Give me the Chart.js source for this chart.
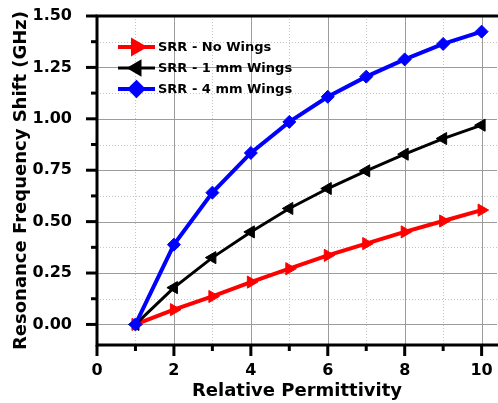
<!DOCTYPE html>
<html>
<head>
<meta charset="utf-8">
<script src="https://cdn.jsdelivr.net/npm/chart.js@4"></script>
<style>
  body { margin: 0; background: #fff; }
  #wrap { width: 498px; height: 403px; }
</style>
</head>
<body>
<div id="wrap"><canvas id="myChart"></canvas></div>
<script>
const permittivity = [1, 2, 3, 4, 5, 6, 7, 8, 9, 10];
const noWings = [0, 0.072, 0.136, 0.206, 0.271, 0.336, 0.393, 0.45, 0.503, 0.556];
const wings1mm = [0, 0.179, 0.325, 0.45, 0.564, 0.661, 0.747, 0.828, 0.904, 0.969];
const wings4mm = [0, 0.388, 0.641, 0.834, 0.985, 1.107, 1.205, 1.289, 1.364, 1.424];
const seriesNames = ["SRR - No Wings", "SRR - 1 mm Wings", "SRR - 4 mm Wings"];
const xTicks = [0, 2, 4, 6, 8, 10];
const xMinor = [1, 3, 5, 7, 9];
const yTicks = [0, 0.25, 0.5, 0.75, 1.0, 1.25, 1.5];
const yMinor = [0.125, 0.375, 0.625, 0.875, 1.125, 1.375];

const FONT = "'DejaVu Sans', sans-serif";

function toPoints(ys) {
  return permittivity.map((x, i) => ({ x: x, y: ys[i] }));
}

// gridlines, axis frame and tick marks
const framePlugin = {
  id: "frame",
  beforeDatasetsDraw(chart) {
    const ctx = chart.ctx;
    const a = chart.chartArea;
    const xs = chart.scales.x, ys = chart.scales.y;
    ctx.save();
    ctx.lineWidth = 1;
    ctx.strokeStyle = "#c4c4c4";
    ctx.setLineDash([1, 2]);
    xMinor.forEach(v => {
      const px = Math.round(xs.getPixelForValue(v)) + 0.5;
      ctx.beginPath(); ctx.moveTo(px, a.top); ctx.lineTo(px, a.bottom); ctx.stroke();
    });
    yMinor.forEach(v => {
      const py = Math.round(ys.getPixelForValue(v)) + 0.5;
      ctx.beginPath(); ctx.moveTo(a.left, py); ctx.lineTo(a.right, py); ctx.stroke();
    });
    ctx.setLineDash([]);
    ctx.strokeStyle = "#9c9c9c";
    xTicks.forEach(v => {
      const px = Math.round(xs.getPixelForValue(v)) + 0.5;
      ctx.beginPath(); ctx.moveTo(px, a.top); ctx.lineTo(px, a.bottom); ctx.stroke();
    });
    yTicks.forEach(v => {
      const py = Math.round(ys.getPixelForValue(v)) + 0.5;
      ctx.beginPath(); ctx.moveTo(a.left, py); ctx.lineTo(a.right, py); ctx.stroke();
    });

    // frame
    ctx.strokeStyle = "#000";
    ctx.lineWidth = 3;
    ctx.beginPath();
    ctx.moveTo(a.right + 2, a.top);
    ctx.lineTo(a.left, a.top);
    ctx.lineTo(a.left, a.bottom);
    ctx.lineTo(a.right + 2, a.bottom);
    ctx.stroke();

    // outward tick marks
    xTicks.forEach(v => {
      const px = xs.getPixelForValue(v);
      ctx.beginPath(); ctx.moveTo(px, a.bottom); ctx.lineTo(px, a.bottom + 11); ctx.stroke();
    });
    xMinor.forEach(v => {
      const px = xs.getPixelForValue(v);
      ctx.beginPath(); ctx.moveTo(px, a.bottom); ctx.lineTo(px, a.bottom + 6); ctx.stroke();
    });
    yTicks.forEach(v => {
      const py = ys.getPixelForValue(v);
      ctx.beginPath(); ctx.moveTo(a.left, py); ctx.lineTo(a.left - 11, py); ctx.stroke();
    });
    yMinor.forEach(v => {
      const py = ys.getPixelForValue(v);
      ctx.beginPath(); ctx.moveTo(a.left, py); ctx.lineTo(a.left - 6, py); ctx.stroke();
    });
    ctx.restore();
  },
  afterDraw(chart) {
    // legend: line with marker in the middle
    const ctx = chart.ctx;
    const a = chart.chartArea;
    const x0 = a.left + 21, x1 = a.left + 58;
    const rows = [a.top + 31, a.top + 52, a.top + 73];
    ctx.save();
    chart.data.datasets.forEach((ds, i) => {
      const y = rows[i];
      ctx.strokeStyle = ds.borderColor;
      ctx.lineWidth = ds.borderWidth;
      ctx.beginPath(); ctx.moveTo(x0, y); ctx.lineTo(x1, y); ctx.stroke();
      ctx.fillStyle = ds.pointBackgroundColor;
      ctx.strokeStyle = ds.pointBorderColor;
      Chart.helpers.drawPoint(ctx, {
        pointStyle: ds.pointStyle,
        radius: ds.pointRadius,
        rotation: ds.pointRotation,
        borderWidth: 1
      }, (x0 + x1) / 2, y);
      ctx.fillStyle = "#000";
      ctx.font = "bold 13px " + FONT;
      ctx.textBaseline = "middle";
      ctx.fillText(ds.label, x1 + 3, y + 1);
    });
    ctx.restore();
  }
};

function makeSet(label, data, color, style, rot, width, order) {
  return {
    label: label,
    data: toPoints(data),
    borderColor: color,
    backgroundColor: color,
    pointBackgroundColor: color,
    pointBorderColor: color,
    borderWidth: width,
    pointStyle: style,
    pointRotation: rot,
    pointRadius: style === "rectRot" ? 6.5 : 7,
    pointBorderWidth: 1,
    tension: 0,
    order: order
  };
}

const ctx = document.getElementById("myChart").getContext("2d");
const myChart = new Chart(ctx, {
  type: "line",
  data: {
    datasets: [
      makeSet(seriesNames[0], noWings, "#ff0000", "triangle", 90, 4, 3),
      makeSet(seriesNames[1], wings1mm, "#000000", "triangle", -90, 3, 2),
      makeSet(seriesNames[2], wings4mm, "#0000ff", "rectRot", 0, 4, 1)
    ]
  },
  options: {
    animation: false,
    responsive: true,
    maintainAspectRatio: false,
    layout: { autoPadding: false, padding: { top: 16, right: 1, left: 0, bottom: 0 } },
    plugins: { legend: { display: false }, tooltip: { enabled: false } },
    scales: {
      x: {
        type: "linear",
        min: 0,
        max: 10.4,
        afterBuildTicks: s => { s.ticks = xTicks.map(v => ({ value: v })); },
        afterFit: s => { s.height = 58; s.paddingLeft = 0; s.paddingRight = 0; },
        grid: { display: false },
        border: { display: false },
        ticks: {
          padding: 8,
          color: "#000",
          font: { family: FONT, weight: "bold", size: 16 },
          callback: v => String(v)
        },
        title: {
          display: true,
          text: "Relative Permittivity",
          color: "#000",
          font: { family: FONT, weight: "bold", size: 18 },
          padding: { top: 0, bottom: 1 }
        }
      },
      y: {
        type: "linear",
        min: -0.1,
        max: 1.5,
        afterBuildTicks: s => { s.ticks = yTicks.map(v => ({ value: v })); },
        afterFit: s => { s.width = 97; s.paddingTop = 0; s.paddingBottom = 0; },
        grid: { display: false },
        border: { display: false },
        ticks: {
          padding: 17,
          color: "#000",
          font: { family: FONT, weight: "bold", size: 16 },
          callback: v => v.toFixed(2)
        },
        title: {
          display: true,
          text: "Resonance Frequency Shift (GHz)",
          color: "#000",
          font: { family: FONT, weight: "bold", size: 18 },
          padding: { top: 11, bottom: 0 }
        }
      }
    }
  },
  plugins: [framePlugin]
});
</script>
</body>
</html>
